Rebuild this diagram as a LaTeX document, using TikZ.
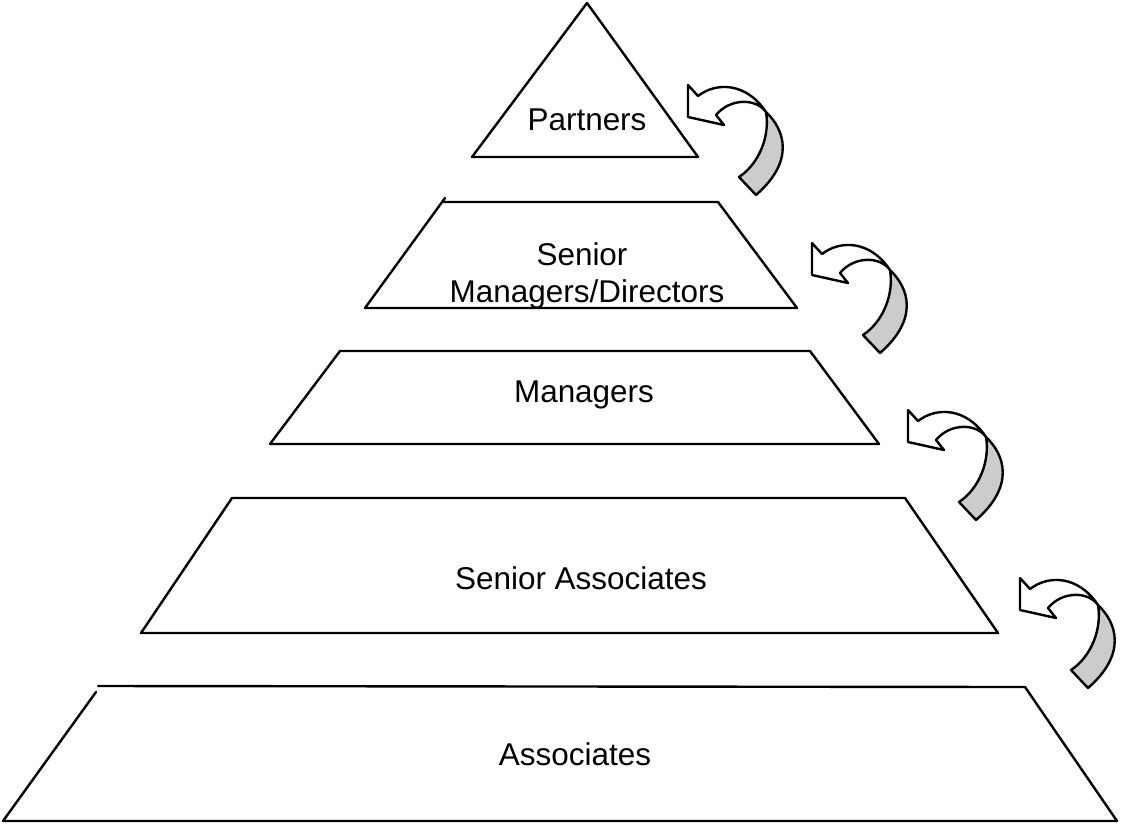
\documentclass[tikz,border=0pt]{standalone}
\usepackage{fontspec}
\setmainfont{Liberation Sans}
\usepackage{xcolor}

\tikzset{
  lbl/.style={font=\fontsize{23.6}{28}\selectfont,anchor=base,inner sep=0pt},
  backside/.style={fill=gray!40},
  frontside/.style={fill=white}
}

\begin{document}
\begin{tikzpicture}[line cap=round,line join=round,line width=1.8pt,x=0.75pt,y=-0.75pt]
\useasboundingbox (0,0) rectangle (1121,825);
% the levels, top to bottom
\draw (587,3) -- (698,157) -- (472,157) -- cycle;
\draw (445,198) -- (365,308) -- (797,308) -- (718,202) -- (443,202);
\draw (340,351) -- (270,444) -- (879,444) -- (810,351) -- cycle;
\draw (232,498) -- (141,633) -- (998,633) -- (905,498) -- cycle;
\draw (96,692) -- (3,821) -- (1117,821) -- (1025,687) -- (98,686);
% labels
\node[lbl] (partners) at (587,130) {Partners};
\node[lbl] (senior) at (582,265) {Senior};
\node[lbl] (mgrdir) at (587,302) {Managers/Directors};
\node[lbl] (managers) at (584,402) {Managers};
\node[lbl] (srassoc) at (581,589) {Senior Associates};
\node[lbl] (assoc) at (575,765) {Associates};
% curved arrows between the levels
\foreach \ax/\ay in {688/85,812/243,908/410,1020/578}
{
\begin{scope}[shift={(\ax,\ay)}]
\draw[backside] (78,27) .. controls (97,45) and (107,76) .. (68,110) -- (51,92) .. controls (72,78) and (82,50) .. (78,27);
\draw[frontside] (0,0) -- (10,11) .. controls (28,-3) and (58,-3) .. (78,27) .. controls (68,13) and (42,13) .. (28,30) -- (36,40) -- (0,32) -- cycle;
\end{scope}
}
\end{tikzpicture}
\end{document}
